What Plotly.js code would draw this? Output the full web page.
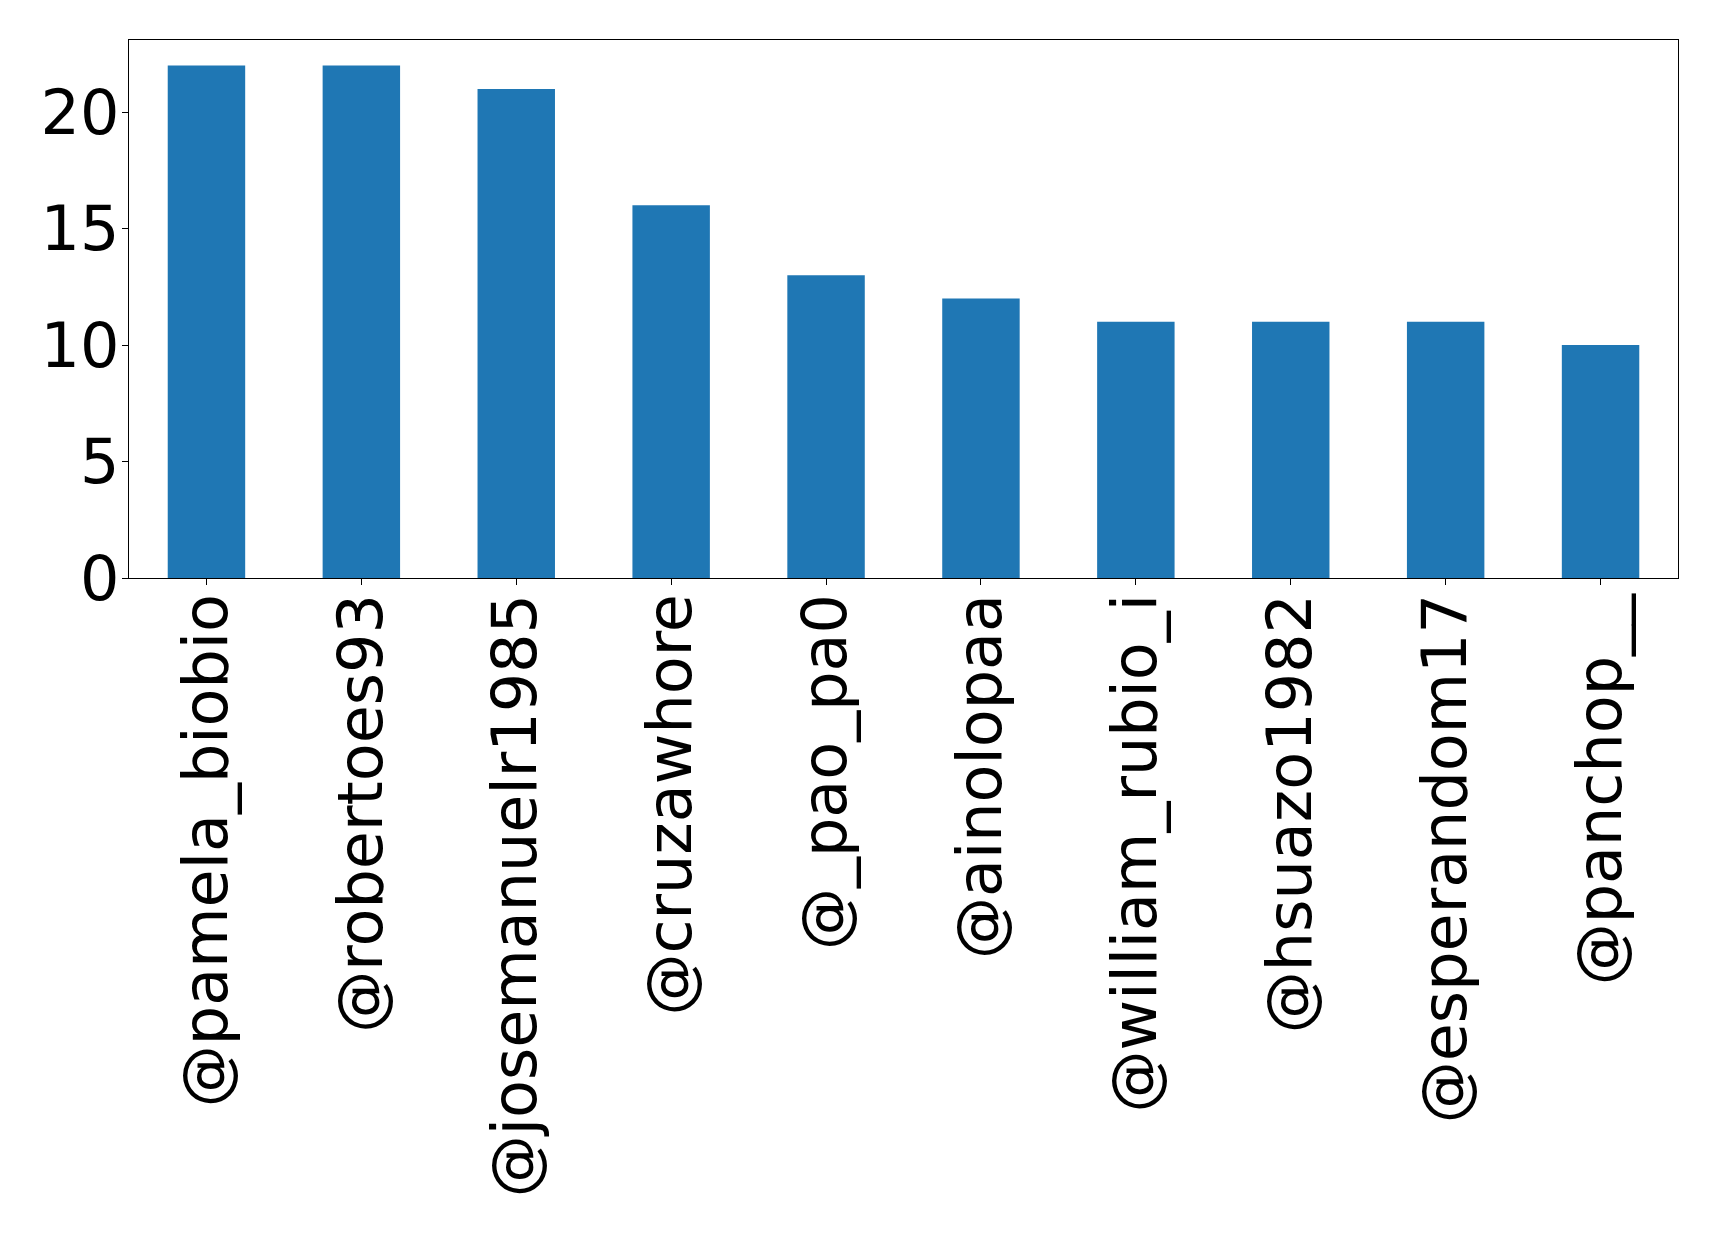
<!DOCTYPE html>
<html>
<head>
<meta charset="utf-8">
<script src="https://cdn.plot.ly/plotly-3.0.1.min.js"></script>
<style>html,body{margin:0;padding:0;background:#fff;}#chart{width:1719px;height:1236px;}</style>
</head>
<body>
<div id="chart"></div>
<script>
const users = ["@pamela_biobio","@robertoes93","@josemanuelr1985","@cruzawhore","@_pao_pa0","@ainolopaa","@william_rubio_i","@hsuazo1982","@esperandom17","@panchop__"];
const counts = [22, 22, 21, 16, 13, 12, 11, 11, 11, 10];
const yTicks = [0, 5, 10, 15, 20];

const trace = {
  type: "bar",
  x: users.map((_, i) => i),
  y: counts,
  width: 0.5,
  marker: {color: "#1f77b4", line: {width: 0}},
  hoverinfo: "x+y"
};
const layout = {
  width: 1719, height: 1236,
  margin: {l: 129, r: 41, t: 40, b: 658},
  paper_bgcolor: "#fff", plot_bgcolor: "#fff",
  showlegend: false,
  font: {family: "DejaVu Sans", size: 62, color: "#000"},
  xaxis: {
    range: [-0.5, 9.5],
    tickmode: "array",
    tickvals: users.map((_, i) => i),
    ticktext: users,
    tickangle: -90,
    ticks: "outside", ticklen: 6, tickwidth: 1, tickcolor: "#000",
    ticklabelstandoff: -16,
    showline: true, linecolor: "#000", linewidth: 1.2, mirror: true,
    showgrid: false, zeroline: false,
    tickfont: {family: "DejaVu Sans", size: 62, color: "#000"}
  },
  yaxis: {
    range: [0, 23.1],
    tickmode: "array",
    tickvals: yTicks,
    ticktext: yTicks.map(String),
    ticks: "outside", ticklen: 6, tickwidth: 1, tickcolor: "#000",
    ticklabelstandoff: -10,
    showline: true, linecolor: "#000", linewidth: 1.2, mirror: true,
    showgrid: false, zeroline: false,
    tickfont: {family: "DejaVu Sans", size: 62, color: "#000"}
  }
};
Plotly.newPlot("chart", [trace], layout, {staticPlot: true, displayModeBar: false});
</script>
</body>
</html>
